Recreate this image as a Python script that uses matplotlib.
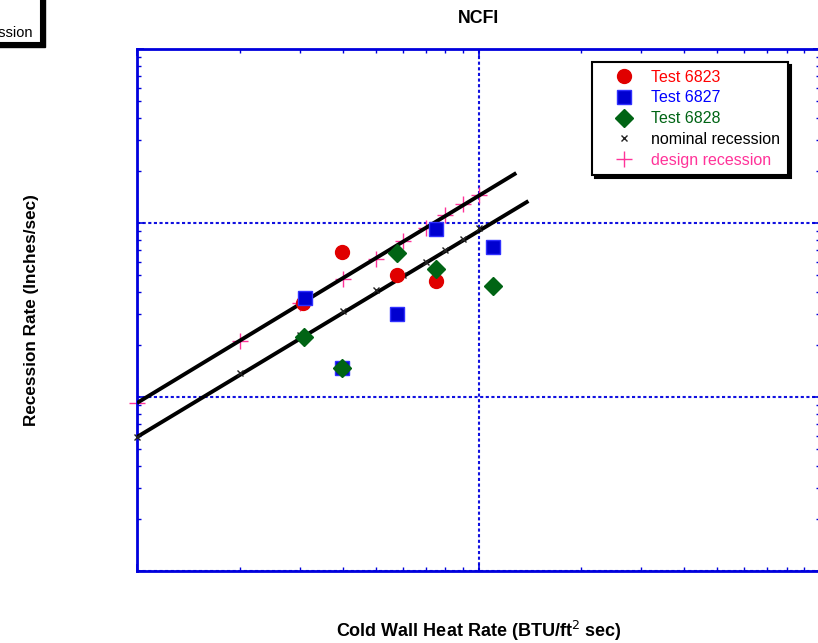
import matplotlib
matplotlib.use("Agg")
import matplotlib.pyplot as plt
from matplotlib.ticker import LogLocator, NullFormatter
from matplotlib.patches import Rectangle

plt.rcParams['font.family'] = ['Liberation Sans', 'DejaVu Sans']

# ---- data ----
test_6823_x = [30.6, 39.8, 57.7, 75.1]
test_6823_y = [0.0347, 0.0681, 0.0503, 0.0464]

test_6827_x = [31.0, 39.8, 57.7, 75.1, 110.3]
test_6827_y = [0.0371, 0.0147, 0.0300, 0.0924, 0.0728]

test_6828_x = [30.8, 39.8, 57.7, 75.1, 110.3]
test_6828_y = [0.0221, 0.0147, 0.0672, 0.0544, 0.0434]

heat_rate = [10, 20, 30, 40, 50, 60, 70, 80, 90, 100]
nominal_recession = [0.00589, 0.01374, 0.0227, 0.0312, 0.0412, 0.0503, 0.0597, 0.0700, 0.0809, 0.0936]
design_recession = [0.00924, 0.0210, 0.0347, 0.0477, 0.0621, 0.0788, 0.0936, 0.1105, 0.1286, 0.1449]

design_fit_x = [10, 129]
design_fit_y = [0.00924, 0.1938]
nominal_fit_x = [10, 140]
nominal_fit_y = [0.00589, 0.1337]

W, H = 818, 643
fig = plt.figure(figsize=(W / 100, H / 100), dpi=100)
ax = fig.add_axes([137 / W, (H - 571) / H, 683 / W, 522 / H])

ax.set_xscale('log')
ax.set_yscale('log')
ax.set_xlim(10, 1000)
ax.set_ylim(0.001, 1)

blue = '#0000DD'
for s in ax.spines.values():
    s.set_color(blue)
    s.set_linewidth(2.0)

ax.xaxis.set_major_locator(LogLocator(base=10))
ax.yaxis.set_major_locator(LogLocator(base=10))
ax.xaxis.set_minor_locator(LogLocator(base=10, subs=range(2, 10)))
ax.yaxis.set_minor_locator(LogLocator(base=10, subs=range(2, 10)))
for axis in (ax.xaxis, ax.yaxis):
    axis.set_major_formatter(NullFormatter())
    axis.set_minor_formatter(NullFormatter())
ax.tick_params(which='both', direction='in', top=True, right=True, colors=blue)
ax.tick_params(which='major', length=5, width=1.2)
ax.tick_params(which='minor', length=3, width=1.0)

ax.grid(True, which='major', color='#1010E0', linestyle=(0, (1.5, 1.2)), linewidth=1.5)

# fit lines
ax.plot(design_fit_x, design_fit_y, color='black', lw=2.8, zorder=3, solid_capstyle='butt')
ax.plot(nominal_fit_x, nominal_fit_y, color='black', lw=2.8, zorder=3, solid_capstyle='butt')

# data
ax.plot(test_6823_x, test_6823_y, 'o', color='#E00000', mec='#E00000', ms=10, zorder=4, label='Test 6823', clip_on=False)
ax.plot(test_6827_x, test_6827_y, 's', color='#0000D0', mec='#3030FF', ms=10, zorder=5, label='Test 6827', clip_on=False)
ax.plot(test_6828_x, test_6828_y, 'D', color='#006414', mec='#006414', ms=9, zorder=6, label='Test 6828', clip_on=False)
ax.plot(heat_rate, nominal_recession, 'x', color='#222222', ms=5, mew=1.0, zorder=3.5, label='nominal recession', clip_on=False)
ax.plot(heat_rate, design_recession, '+', color='#FF3399', ms=12, mew=1.0, zorder=2.5, label='design recession', clip_on=False)

leg = ax.legend(loc='upper left', bbox_to_anchor=(0.666, 0.975), borderaxespad=0,
                fancybox=False, edgecolor='black', framealpha=1,
                shadow={'color': 'black', 'alpha': 1},
                fontsize=11.5, handlelength=3.1, handletextpad=0.15, borderpad=0.48,
                labelspacing=0.36, markerscale=1.0)
leg.get_frame().set_linewidth(1.5)
text_colors = ['#FF0000', '#0000FF', '#006414', 'black', '#FF3399']
for t, c in zip(leg.get_texts(), text_colors):
    t.set_color(c)

ax.set_title('NCFI', fontsize=12.8, fontweight='bold', pad=18.5)
ax.set_xlabel('Cold Wall Heat Rate (BTU/ft$^2$ sec)', fontsize=13, fontweight='bold', labelpad=31)
ax.set_ylabel('Recession Rate (Inches/sec)', fontsize=12.3, fontweight='bold', labelpad=67)

# fragment of a neighbouring legend box at the top-left corner
fig.patches.append(Rectangle((-100 / W, (H - 47) / H), 145 / W, 60 / H, transform=fig.transFigure,
                             facecolor='black', edgecolor='black', zorder=1))
fig.patches.append(Rectangle((-100 / W, (H - 43) / H), 141 / W, 60 / H, transform=fig.transFigure,
                             facecolor='white', edgecolor='black', linewidth=1.5, zorder=2))
fig.text(33 / W, (H - 33) / H, 'design recession', ha='right', va='center', fontsize=10.5, color='black', zorder=3)

fig.savefig('out.png', dpi=100)
